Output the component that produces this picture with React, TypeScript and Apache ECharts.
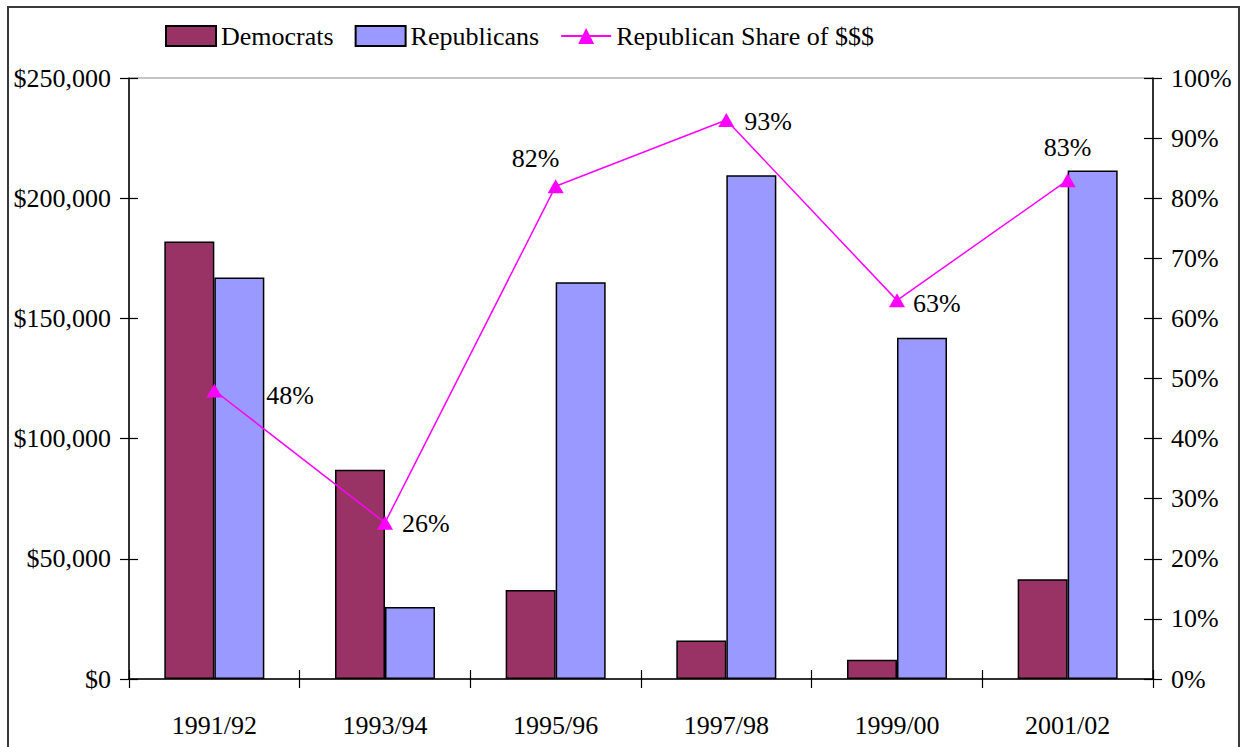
import { useEffect, useRef } from "react";
import * as echarts from "echarts";

// Campaign contributions by party, two-year cycles
const categories = ["1991/92", "1993/94", "1995/96", "1997/98", "1999/00", "2001/02"];
const democrats = [182000, 87000, 37000, 16000, 8000, 41500];
const republicans = [167000, 30000, 165000, 209500, 142000, 211500];
const republicanShare = [48, 26, 82, 93, 63, 83];

// Axis ticks
const dollarTicks = [0, 50000, 100000, 150000, 200000, 250000];
const percentTicks = [0, 10, 20, 30, 40, 50, 60, 70, 80, 90, 100];

// Where each share label sits around its marker
const shareLabelPlacement = [
  { position: "right", distance: 44, offset: [0, 5] },
  { position: "right", distance: 9, offset: [0, 1] },
  { position: "top", distance: 8, offset: [-20, 0] },
  { position: "right", distance: 10, offset: [0, 1] },
  { position: "right", distance: 8, offset: [0, 3] },
  { position: "top", distance: 13, offset: [0, 0] },
];

const FONT = "Liberation Serif";
const FONT_SIZE = 26;
const DEM_COLOR = "#993366";
const REP_COLOR = "#9999FF";
const SHARE_COLOR = "#FF00FF";

const formatDollars = (v: number) => "$" + v.toLocaleString("en-US");

export default function App() {
  const ref = useRef<HTMLDivElement>(null);

  useEffect(() => {
    document.body.style.margin = "0";
    if (!ref.current) return;
    const chart = echarts.init(ref.current, undefined, { renderer: "svg" });

    const dMin = dollarTicks[0];
    const dMax = dollarTicks[dollarTicks.length - 1];
    const dStep = dollarTicks[1] - dollarTicks[0];
    const pMin = percentTicks[0];
    const pMax = percentTicks[percentTicks.length - 1];
    const pStep = percentTicks[1] - percentTicks[0];

    const textStyle = { fontFamily: FONT, fontSize: FONT_SIZE, color: "#000" };
    const axisLine = { show: true, lineStyle: { color: "#000", width: 1.5 } };
    const tick = (inside: boolean) => ({
      show: true,
      inside,
      length: 9,
      lineStyle: { color: "#000", width: 1.2 },
    });

    chart.setOption({
      animation: false,
      backgroundColor: "#fff",
      textStyle: { fontFamily: FONT },
      grid: {
        left: 129,
        right: 91,
        top: 78,
        bottom: 68,
        show: true,
        borderColor: "#8a8a8a",
        borderWidth: 1,
        backgroundColor: "transparent",
      },
      legend: {
        left: 165,
        top: 23,
        padding: 0,
        itemWidth: 50,
        itemHeight: 20,
        itemGap: 21,
        textStyle,
        data: [
          { name: "Democrats", icon: "rect" },
          { name: "Republicans", icon: "rect" },
          { name: "Republican Share of $$$" },
        ],
      },
      graphic: [
        {
          type: "rect",
          silent: true,
          shape: { x: 8, y: 7, width: 1231, height: 800 },
          style: { fill: "none", stroke: "#3a3a3a", lineWidth: 2 },
        },
      ],
      xAxis: [
        {
          type: "category",
          data: categories,
          axisLine,
          axisTick: tick(false),
          axisLabel: { ...textStyle, margin: 33 },
          splitLine: { show: false },
        },
        {
          type: "category",
          data: categories,
          position: "bottom",
          axisLine: { show: false },
          axisTick: tick(true),
          axisLabel: { show: false },
          splitLine: { show: false },
        },
      ],
      yAxis: [
        {
          type: "value",
          position: "left",
          min: dMin,
          max: dMax,
          interval: dStep,
          axisLine,
          axisTick: tick(false),
          axisLabel: { ...textStyle, margin: 18, formatter: formatDollars },
          splitLine: { show: false },
        },
        {
          type: "value",
          position: "right",
          min: pMin,
          max: pMax,
          interval: pStep,
          axisLine,
          axisTick: tick(false),
          axisLabel: { ...textStyle, margin: 18, formatter: "{value}%" },
          splitLine: { show: false },
        },
        {
          type: "value",
          position: "left",
          min: dMin,
          max: dMax,
          interval: dStep,
          axisLine: { show: false },
          axisTick: tick(true),
          axisLabel: { show: false },
          splitLine: { show: false },
        },
        {
          type: "value",
          position: "right",
          min: pMin,
          max: pMax,
          interval: pStep,
          axisLine: { show: false },
          axisTick: tick(true),
          axisLabel: { show: false },
          splitLine: { show: false },
        },
      ],
      series: [
        {
          name: "Democrats",
          type: "bar",
          data: democrats,
          barWidth: 50,
          barGap: "0%",
          itemStyle: { color: DEM_COLOR, borderColor: "#000", borderWidth: 1.5 },
        },
        {
          name: "Republicans",
          type: "bar",
          data: republicans,
          barWidth: 50,
          barGap: "0%",
          itemStyle: { color: REP_COLOR, borderColor: "#000", borderWidth: 1.5 },
        },
        {
          name: "Republican Share of $$$",
          type: "line",
          yAxisIndex: 1,
          symbol: "triangle",
          symbolSize: [16, 14],
          lineStyle: { color: SHARE_COLOR, width: 1.5 },
          itemStyle: { color: SHARE_COLOR },
          data: republicanShare.map((v, i) => ({
            value: v,
            label: {
              show: true,
              ...shareLabelPlacement[i],
              formatter: "{c}%",
              ...textStyle,
            },
          })),
        },
      ],
    });

    return () => chart.dispose();
  }, []);

  return <div ref={ref} style={{ width: 1244, height: 747 }} />;
}
